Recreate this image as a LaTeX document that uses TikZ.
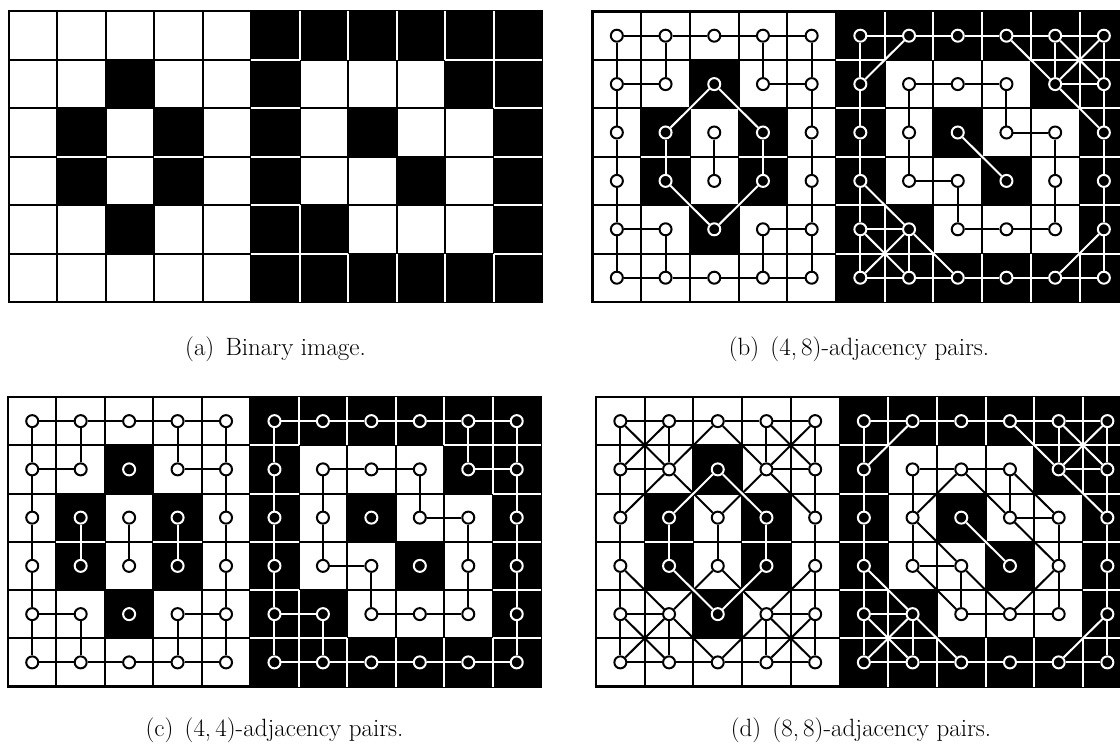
\documentclass[tikz,border=0pt]{standalone}
\usepackage{fontspec}
\tikzset{
  gridb/.style={draw=black, line width=2pt},
  gridw/.style={draw=white, line width=2pt},
  frameline/.style={draw=black, line width=2.4pt},
  wnode/.style={circle, draw=black, fill=white, line width=2pt, minimum size=12pt, inner sep=0pt},
  bnode/.style={circle, draw=white, fill=black, line width=2pt, minimum size=12pt, inner sep=0pt},
  bedge/.style={draw=black, line width=2pt},
  wedge/.style={draw=white, line width=2pt},
  capt/.style={font=\fontsize{25}{30}\selectfont, inner sep=0pt}
}
% cell lists (row/col)
\def\blackcells{1/2,2/1,2/3,3/1,3/3,4/2,0/5,0/6,0/7,0/8,0/9,0/10,5/5,5/6,5/7,5/8,5/9,5/10,1/5,2/5,3/5,4/5,1/10,2/10,3/10,4/10,1/9,2/7,3/8,4/6}
\def\whitecells{0/0,0/1,0/2,0/3,0/4,1/0,1/1,1/3,1/4,1/6,1/7,1/8,2/0,2/2,2/4,2/6,2/8,2/9,3/0,3/2,3/4,3/6,3/7,3/9,4/0,4/1,4/3,4/4,4/7,4/8,4/9,5/0,5/1,5/2,5/3,5/4}
% black neighbours: (r,c)-(r,c+1)
\def\hpairs{0/5,0/6,0/7,0/8,0/9,5/5,5/6,5/7,5/8,5/9,1/9,4/5}
% black neighbours: (r,c)-(r+1,c)
\def\vpairs{0/5,1/5,2/5,3/5,4/5,0/10,1/10,2/10,3/10,4/10,0/9,4/6,2/1,2/3}
% adjacency lists
\def\wfour{0-0/0-1,0-1/0-2,0-2/0-3,0-3/0-4,5-0/5-1,5-1/5-2,5-2/5-3,5-3/5-4,0-0/1-0,1-0/2-0,2-0/3-0,3-0/4-0,4-0/5-0,0-4/1-4,1-4/2-4,2-4/3-4,3-4/4-4,4-4/5-4,0-1/1-1,1-0/1-1,0-3/1-3,1-3/1-4,4-0/4-1,4-1/5-1,4-3/4-4,4-3/5-3,2-2/3-2,1-6/1-7,1-7/1-8,1-6/2-6,2-6/3-6,3-6/3-7,3-7/4-7,4-7/4-8,4-8/4-9,2-9/3-9,3-9/4-9,2-8/2-9,1-8/2-8}
\def\wdiag{0-0/1-1,0-1/1-0,0-2/1-1,0-2/1-3,0-3/1-4,0-4/1-3,1-1/2-0,1-1/2-2,1-3/2-2,1-3/2-4,3-0/4-1,3-2/4-1,3-2/4-3,3-4/4-3,4-0/5-1,4-1/5-0,4-1/5-2,4-3/5-2,4-3/5-4,4-4/5-3,1-7/2-6,1-7/2-8,1-8/2-9,2-6/3-7,2-8/3-9,3-6/4-7,3-7/4-8,3-9/4-8}
\def\bfour{2-1/3-1,2-3/3-3,0-5/0-6,0-6/0-7,0-7/0-8,0-8/0-9,0-9/0-10,5-5/5-6,5-6/5-7,5-7/5-8,5-8/5-9,5-9/5-10,0-5/1-5,1-5/2-5,2-5/3-5,3-5/4-5,4-5/5-5,0-10/1-10,1-10/2-10,2-10/3-10,3-10/4-10,4-10/5-10,0-9/1-9,1-9/1-10,4-5/4-6,4-6/5-6}
\def\bdiag{1-2/2-1,1-2/2-3,3-1/4-2,3-3/4-2,1-5/0-6,0-8/1-9,0-9/1-10,0-10/1-9,1-9/2-10,3-5/4-6,4-5/5-6,4-6/5-5,4-6/5-7,4-10/5-9,2-7/3-8}
% #1 ox, #2 oy, #3 sx, #4 sy
\newcommand{\panelgrid}[4]{%
  \fill[white] (#1,#2) rectangle ++(11*#3,6*#4);
  \foreach \i in {0,...,11} {\draw[gridb] (#1+\i*#3,#2) -- ++(0,6*#4);}
  \foreach \j in {0,...,6} {\draw[gridb] (#1,#2+\j*#4) -- ++(11*#3,0);}
  \foreach \r/\c in \blackcells {\fill[black] (#1+\c*#3,#2+\r*#4) rectangle ++(#3,#4);}
  \draw[frameline] (#1,#2) rectangle ++(11*#3,6*#4);
  \foreach \r/\c in \hpairs {\draw[gridw] (#1+\c*#3+#3,#2+\r*#4) -- ++(0,#4);}
  \foreach \r/\c in \vpairs {\draw[gridw] (#1+\c*#3,#2+\r*#4+#4) -- ++(#3,0);}
}
% #1 prefix, #2 ox, #3 oy, #4 sx, #5 sy
\newcommand{\panelnodes}[5]{%
  \foreach \r/\c in \whitecells {\node[wnode] (#1-\r-\c) at (#2+\c*#4+0.5*#4,#3+\r*#5+0.5*#5) {};}
  \foreach \r/\c in \blackcells {\node[bnode] (#1-\r-\c) at (#2+\c*#4+0.5*#4,#3+\r*#5+0.5*#5) {};}
}
\newcommand{\edgeset}[3]{% #1 prefix, #2 list, #3 style
  \foreach \a/\b in #2 {\draw[#3] (#1-\a) -- (#1-\b);}
}
\begin{document}
\begin{tikzpicture}[x=1pt,y=-1pt]
\useasboundingbox (0,0) rectangle (1120,745);
\fill[white] (0,0) rectangle (1120,745);
\begin{scope}
\clip (0,0) rectangle (1120,745);
% (a)
\panelgrid{9}{11}{48.45}{48.5}
% (b)
\panelgrid{592.5}{11.5}{48.7}{48.4}
\panelnodes{b}{592.5}{11.5}{48.7}{48.4}
\edgeset{b}{\wfour}{bedge}
\edgeset{b}{\bfour}{wedge}
\edgeset{b}{\bdiag}{wedge}
% (c)
\panelgrid{8}{397}{48.45}{48.25}
\panelnodes{c}{8}{397}{48.45}{48.25}
\edgeset{c}{\wfour}{bedge}
\edgeset{c}{\bfour}{wedge}
% (d)
\panelgrid{596}{397}{48.7}{48.25}
\panelnodes{d}{596}{397}{48.7}{48.25}
\edgeset{d}{\wfour}{bedge}
\edgeset{d}{\wdiag}{bedge}
\edgeset{d}{\bfour}{wedge}
\edgeset{d}{\bdiag}{wedge}
\end{scope}
% captions
\node[capt] (capa) at (275.5,349) {(a)\hspace{0.45em}Binary image.};
\node[capt] (capb) at (859,349) {(b)\hspace{0.45em}(4,\,8)-adjacency pairs.};
\node[capt] (capc) at (274.5,730) {(c)\hspace{0.45em}(4,\,4)-adjacency pairs.};
\node[capt] (capd) at (861,730) {(d)\hspace{0.45em}(8,\,8)-adjacency pairs.};
\end{tikzpicture}
\end{document}
